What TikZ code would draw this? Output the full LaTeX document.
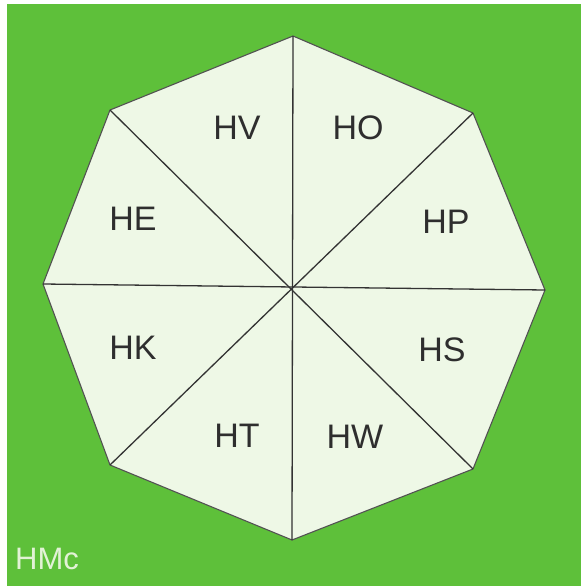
\documentclass[tikz,border=0pt]{standalone}
\usepackage{fontspec}
\setmainfont{Liberation Sans}
\definecolor{bggreen}{HTML}{5EC03A}
\definecolor{octfill}{HTML}{EEF8E6}
\definecolor{linegray}{HTML}{333333}
\definecolor{txtgray}{HTML}{2E2E2E}
\definecolor{pale}{HTML}{E2F2D6}
\tikzset{
  sector/.style={font=\fontsize{34}{34}\selectfont, text=txtgray, inner sep=0pt},
  divider/.style={draw=linegray, line width=1.3pt},
  rim/.style={draw=linegray!85, line width=1.1pt, fill=octfill, line join=round},
  signature/.style={font=\fontsize{31}{31}\selectfont, text=pale, inner sep=0pt, anchor=west}
}
\begin{document}
\begin{tikzpicture}[x=1pt,y=-1pt]
\useasboundingbox (0,0) rectangle (581,586);
\fill[white] (0,0) rectangle (581,586);
\fill[bggreen] (7,4) rectangle (581,586);
\coordinate (T) at (293,36);
\coordinate (UR) at (473,113);
\coordinate (R) at (545,290);
\coordinate (LR) at (473,469);
\coordinate (B) at (292,540);
\coordinate (LL) at (110,465);
\coordinate (L) at (43,284);
\coordinate (UL) at (110,110);
\path[rim] (T) -- (UR) -- (R) -- (LR) -- (B) -- (LL) -- (L) -- (UL) -- cycle;
\draw[divider] (T) -- (B);
\draw[divider] (L) -- (R);
\draw[divider] (UL) -- (LR);
\draw[divider] (UR) -- (LL);
\node[sector] (hv) at (237,128) {HV};
\node[sector] (ho) at (358,128) {HO};
\node[sector] (he) at (133,219) {HE};
\node[sector] (hp) at (446,222) {HP};
\node[sector] (hk) at (133,348) {HK};
\node[sector] (hs) at (442,350) {HS};
\node[sector] (ht) at (237,436) {HT};
\node[sector] (hw) at (355,437) {HW};
\node[signature] (hmc) at (15,559) {HMc};
\end{tikzpicture}
\end{document}
